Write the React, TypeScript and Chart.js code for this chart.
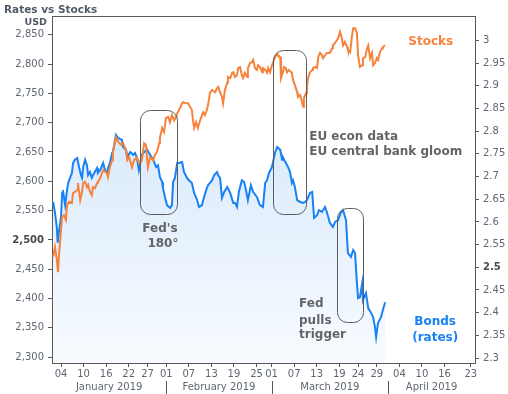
import React, { useEffect, useRef } from 'react';
import { Chart, registerables } from 'chart.js';

Chart.register(...registerables);

// ---- Data (day 0 = 1 Jan 2019) ----
const BLUE_DAYS = [
  0.9, 1.4, 1.9, 2.1, 2.5, 3.0, 3.3, 3.5, 4.1, 4.6, 4.9, 5.4, 5.9, 6.2, 6.7, 7.3, 7.8, 8.3, 8.6, 8.9,
  9.4, 9.9, 10.2, 10.7, 11.2, 11.5, 12.6, 12.8, 13.4, 14.2, 14.7, 15.2, 15.5, 16.0, 16.6, 16.8, 17.6, 18.2, 19.2, 19.5,
  20.3, 20.6, 21.4, 22.2, 22.7, 23.2, 23.7, 24.5, 25.1, 25.9, 26.4, 27.5, 28.3, 28.8, 29.3, 29.9, 30.1, 30.7, 31.2, 32.0,
  32.5, 32.8, 33.3, 33.9, 34.4, 35.2, 35.7, 36.5, 37.0, 37.8, 38.4, 39.2, 39.7, 40.5, 40.8, 41.6, 42.1, 43.2, 43.7, 44.5,
  44.8, 45.3, 45.8, 46.4, 47.2, 48.0, 48.8, 49.3, 49.8, 50.3, 51.1, 51.7, 52.2, 52.7, 53.5, 54.1, 55.1, 55.9, 56.7, 57.3,
  57.8, 58.3, 59.1, 59.9, 60.5, 61.3, 61.8, 62.0, 62.8, 63.4, 63.9, 64.4, 64.7, 65.2, 65.8, 66.6, 67.4, 67.9, 68.4, 69.2,
  69.8, 70.3, 71.1, 71.6, 72.4, 73.2, 73.7, 74.5, 75.3, 75.9, 76.7, 77.5, 78.0, 78.8, 79.3, 80.1, 80.7, 81.2, 81.7, 82.0,
  82.5, 83.1, 83.3, 84.1, 84.7, 85.5, 86.0, 86.5, 86.8, 87.3, 88.1, 88.6, 89.2,
];
const BLUE_RATES = [
  2.644, 2.620, 2.587, 2.554, 2.582, 2.611, 2.664, 2.670, 2.637, 2.670, 2.686, 2.697, 2.708, 2.730, 2.737, 2.741, 2.721, 2.703, 2.697, 2.721,
  2.737, 2.725, 2.703, 2.710, 2.697, 2.703, 2.719, 2.708, 2.714, 2.730, 2.714, 2.708, 2.719, 2.730, 2.752, 2.754, 2.792, 2.785, 2.781, 2.765,
  2.759, 2.743, 2.754, 2.748, 2.752, 2.741, 2.714, 2.748, 2.754, 2.759, 2.752, 2.737, 2.721, 2.725, 2.699, 2.688, 2.675, 2.653, 2.637, 2.631,
  2.637, 2.688, 2.697, 2.730, 2.730, 2.732, 2.710, 2.697, 2.692, 2.686, 2.664, 2.648, 2.633, 2.637, 2.648, 2.670, 2.681, 2.692, 2.703, 2.710,
  2.703, 2.697, 2.653, 2.666, 2.677, 2.664, 2.642, 2.642, 2.633, 2.666, 2.692, 2.688, 2.670, 2.648, 2.681, 2.666, 2.655, 2.637, 2.633, 2.686,
  2.692, 2.708, 2.721, 2.752, 2.765, 2.759, 2.737, 2.743, 2.730, 2.721, 2.710, 2.686, 2.692, 2.677, 2.648, 2.644, 2.642, 2.644, 2.648, 2.664,
  2.666, 2.609, 2.615, 2.626, 2.622, 2.633, 2.622, 2.598, 2.589, 2.600, 2.604, 2.622, 2.626, 2.604, 2.531, 2.523, 2.538, 2.531, 2.465, 2.432,
  2.434, 2.465, 2.428, 2.443, 2.410, 2.399, 2.390, 2.368, 2.346, 2.377, 2.390, 2.406, 2.423,
];
const ORANGE_DAYS = [
  0.9, 1.4, 1.9, 2.2, 2.5, 3.0, 3.3, 3.8, 4.3, 4.6, 5.1, 5.9, 6.2, 6.7, 7.3, 7.5, 8.1, 8.6, 8.9, 9.4,
  9.9, 10.2, 10.7, 11.2, 11.5, 12.0, 12.6, 12.8, 13.4, 13.9, 14.2, 15.2, 15.5, 16.0, 16.6, 16.8, 17.6, 18.2, 19.0, 19.5,
  20.3, 20.6, 21.1, 21.9, 22.4, 23.2, 23.7, 24.5, 25.1, 25.6, 26.1, 26.7, 27.5, 28.0, 28.5, 29.1, 29.3, 29.9, 30.4, 30.9,
  31.5, 32.0, 32.5, 33.1, 33.6, 33.9, 34.4, 35.2, 35.5, 36.2, 36.8, 37.3, 37.8, 38.1, 38.4, 38.9, 39.4, 40.0, 40.5, 40.8,
  41.3, 41.8, 42.1, 42.6, 43.2, 44.0, 44.5, 44.8, 45.3, 45.8, 46.1, 46.6, 47.2, 47.4, 48.0, 48.5, 48.8, 49.3, 49.8, 50.1,
  50.6, 51.1, 51.4, 51.9, 52.5, 52.7, 53.3, 53.8, 54.1, 54.6, 55.1, 55.4, 55.9, 56.5, 56.7, 57.3, 57.8, 58.1, 58.6, 59.1,
  59.4, 59.9, 60.5, 60.7, 61.3, 61.5, 62.0, 62.3, 62.8, 63.1, 63.6, 64.4, 64.7, 65.2, 65.8, 66.0, 66.6, 67.1, 67.4, 67.6,
  68.2, 68.4, 68.7, 69.2, 69.8, 70.0, 70.6, 71.1, 71.4, 71.9, 72.4, 72.7, 73.2, 73.7, 74.5, 75.1, 75.3, 75.9, 76.4, 76.7,
  77.2, 77.7, 78.0, 78.5, 79.1, 79.3, 79.9, 80.4, 80.7, 81.2, 81.7, 82.0, 82.5, 83.1, 83.3, 83.9, 84.4, 84.7, 85.2, 85.7,
  86.0, 86.5, 87.0, 87.3, 87.8, 88.4, 88.6, 89.2,
];
const ORANGE_USD = [
  2471, 2488, 2466, 2445, 2477, 2517, 2539, 2542, 2534, 2559, 2565, 2563, 2580, 2582, 2585, 2597, 2568, 2582, 2597, 2599,
  2590, 2594, 2582, 2576, 2590, 2588, 2597, 2599, 2605, 2614, 2619, 2614, 2607, 2624, 2636, 2650, 2675, 2667, 2662, 2665,
  2653, 2636, 2641, 2624, 2636, 2641, 2631, 2636, 2665, 2662, 2624, 2641, 2636, 2645, 2650, 2665, 2674, 2691, 2684, 2708,
  2710, 2701, 2713, 2704, 2710, 2716, 2722, 2733, 2735, 2733, 2733, 2727, 2722, 2704, 2691, 2701, 2691, 2704, 2713, 2718,
  2713, 2722, 2730, 2751, 2756, 2752, 2759, 2761, 2752, 2744, 2733, 2756, 2768, 2778, 2776, 2785, 2786, 2778, 2781, 2793,
  2795, 2781, 2776, 2785, 2778, 2793, 2802, 2803, 2807, 2793, 2790, 2798, 2795, 2786, 2793, 2790, 2785, 2793, 2786, 2798,
  2803, 2812, 2817, 2815, 2812, 2776, 2786, 2795, 2793, 2786, 2790, 2785, 2773, 2764, 2752, 2744, 2747, 2735, 2727, 2742,
  2751, 2761, 2776, 2786, 2790, 2793, 2795, 2793, 2812, 2819, 2815, 2810, 2815, 2819, 2819, 2827, 2832, 2836, 2841, 2844,
  2855, 2844, 2832, 2838, 2829, 2824, 2820, 2849, 2861, 2861, 2853, 2815, 2795, 2798, 2810, 2812, 2827, 2832, 2810, 2819,
  2798, 2802, 2810, 2807, 2820, 2827, 2829, 2832,
];

const USD_TICKS = [2300, 2350, 2400, 2450, 2500, 2550, 2600, 2650, 2700, 2750, 2800, 2850];
const RATE_TICKS = [2.3, 2.35, 2.4, 2.45, 2.5, 2.55, 2.6, 2.65, 2.7, 2.75, 2.8, 2.85, 2.9, 2.95, 3];
const DAY_TICKS = [3, 9, 15, 21, 26, 31, 37, 43, 49, 55, 59, 65, 71, 77, 82, 87, 93, 99, 105, 112];
const MONTH_NAMES = ['January 2019', 'February 2019', 'March 2019', 'April 2019'];
const MONTH_STARTS = [0, 31, 59, 90];

// axis ranges
const X_MIN = 0.6;
const X_MAX = 113.1;
const USD_MIN = 2290;
const USD_MAX = 2882;
const RATE_MIN = 2.289;
const RATE_MAX = 3.054;

// annotation boxes (day range, rate range on right axis)
const BOXES = [
  { d0: 24.1, d1: 33.9, r0: 2.617, r1: 2.847 },
  { d0: 59.4, d1: 68.2, r0: 2.617, r1: 2.979 },
  { d0: 76.4, d1: 83.3, r0: 2.379, r1: 2.631 },
];

const GRAY_TXT = '#646464';
const ORANGE = '#f7823c';
const BLUE = '#1882f5';

const LABELS = [
  { text: "Fed's", d: 29.3, r: 2.584, align: 'center', color: GRAY_TXT },
  { text: '180°', d: 30.1, r: 2.551, align: 'center', color: GRAY_TXT },
  { text: 'EU econ data', d: 69.0, r: 2.787, align: 'left', color: GRAY_TXT },
  { text: 'EU central bank gloom', d: 69.0, r: 2.754, align: 'left', color: GRAY_TXT },
  { text: 'Fed', d: 66.3, r: 2.419, align: 'left', color: GRAY_TXT },
  { text: 'pulls', d: 66.3, r: 2.382, align: 'left', color: GRAY_TXT },
  { text: 'trigger', d: 66.3, r: 2.350, align: 'left', color: GRAY_TXT },
  { text: 'Stocks', d: 107.3, r: 2.997, align: 'right', color: ORANGE },
  { text: 'Bonds', d: 102.5, r: 2.379, align: 'center', color: BLUE },
  { text: '(rates)', d: 102.5, r: 2.344, align: 'center', color: BLUE },
];

const TICK_COLOR = '#5e6772';
const AXIS_COLOR = '#595959';
const FONT = 'DejaVu Sans';

function dayLabel(v: number): string {
  const dt = new Date(2019, 0, 1 + Math.round(v));
  return String(dt.getDate()).padStart(2, '0');
}

const overlayPlugin = {
  id: 'overlay',
  afterDraw(chart: any) {
    const { ctx, chartArea, scales } = chart;
    const xs = scales.x;
    const yr = scales.y1;
    ctx.save();

    // top border of the plot box
    ctx.strokeStyle = AXIS_COLOR;
    ctx.lineWidth = 1;
    ctx.beginPath();
    ctx.moveTo(chartArea.left, Math.round(chartArea.top) + 0.5);
    ctx.lineTo(chartArea.right, Math.round(chartArea.top) + 0.5);
    ctx.stroke();

    // annotation boxes
    ctx.strokeStyle = '#5c5c5c';
    ctx.lineWidth = 1;
    for (const b of BOXES) {
      const l = Math.round(xs.getPixelForValue(b.d0)) + 0.5;
      const r = Math.round(xs.getPixelForValue(b.d1)) + 0.5;
      const t = Math.round(yr.getPixelForValue(b.r1)) + 0.5;
      const bt = Math.round(yr.getPixelForValue(b.r0)) + 0.5;
      ctx.beginPath();
      (ctx as any).roundRect(l, t, r - l, bt - t, 10);
      ctx.stroke();
    }

    // annotation texts
    ctx.font = `bold 12px "${FONT}"`;
    ctx.textBaseline = 'middle';
    for (const lb of LABELS) {
      ctx.fillStyle = lb.color;
      ctx.textAlign = lb.align as CanvasTextAlign;
      ctx.fillText(lb.text, xs.getPixelForValue(lb.d), yr.getPixelForValue(lb.r));
    }

    // month row
    const bounds = [chartArea.left];
    for (let i = 1; i < MONTH_STARTS.length; i++) bounds.push(xs.getPixelForValue(MONTH_STARTS[i]));
    bounds.push(chartArea.right);
    ctx.strokeStyle = AXIS_COLOR;
    for (let i = 1; i < MONTH_STARTS.length; i++) {
      const px = Math.round(bounds[i]) + 0.5;
      ctx.beginPath();
      ctx.moveTo(px, 381);
      ctx.lineTo(px, 394);
      ctx.stroke();
    }
    ctx.font = `10px "${FONT}"`;
    ctx.fillStyle = TICK_COLOR;
    ctx.textAlign = 'center';
    for (let i = 0; i < MONTH_NAMES.length; i++) {
      ctx.fillText(MONTH_NAMES[i], (bounds[i] + bounds[i + 1]) / 2, 387);
    }

    // title and unit
    ctx.fillStyle = '#4f5a66';
    ctx.textAlign = 'left';
    ctx.font = `bold 10.5px "${FONT}"`;
    ctx.fillText('Rates vs Stocks', 4, 10);
    ctx.textAlign = 'right';
    ctx.font = `bold 9.5px "${FONT}"`;
    ctx.fillText('USD', 47, 23);

    ctx.restore();
  },
};

export default function App() {
  const ref = useRef<HTMLCanvasElement | null>(null);

  useEffect(() => {
    document.body.style.margin = '0';
    const canvas = ref.current;
    if (!canvas) return;

    const blueData = BLUE_DAYS.map((d, i) => ({ x: d, y: BLUE_RATES[i] }));
    const orangeData = ORANGE_DAYS.map((d, i) => ({ x: d, y: ORANGE_USD[i] }));

    const chart = new Chart(canvas, {
      type: 'line',
      data: {
        datasets: [
          {
            label: 'Stocks',
            data: orangeData,
            yAxisID: 'y',
            borderColor: ORANGE,
            borderWidth: 2,
            pointRadius: 0,
            tension: 0,
            fill: false,
          },
          {
            label: 'Bonds (rates)',
            data: blueData,
            yAxisID: 'y1',
            borderColor: BLUE,
            borderWidth: 2,
            pointRadius: 0,
            tension: 0,
            fill: 'start',
            backgroundColor: (c: any) => {
              const area = c.chart.chartArea;
              if (!area) return 'rgba(210,228,250,0.6)';
              const g = c.chart.ctx.createLinearGradient(0, area.top, 0, area.bottom);
              g.addColorStop(0, '#cbe1fa');
              g.addColorStop(1, '#f7fbff');
              return g;
            },
          },
        ],
      },
      options: {
        responsive: false,
        animation: false,
        devicePixelRatio: 1,
        layout: { padding: { top: 16, left: 0, right: 0, bottom: 0 } },
        plugins: {
          legend: { display: false },
          tooltip: { enabled: false },
        },
        scales: {
          x: {
            type: 'linear',
            min: X_MIN,
            max: X_MAX,
            afterBuildTicks: (s: any) => {
              s.ticks = DAY_TICKS.map((v) => ({ value: v }));
            },
            afterFit: (s: any) => {
              s.height = 31;
            },
            ticks: {
              callback: (v: any) => dayLabel(Number(v)),
              font: { family: FONT, size: 10 },
              color: TICK_COLOR,
              padding: 1,
              maxRotation: 0,
              autoSkip: false,
            },
            grid: { drawOnChartArea: false, tickLength: 4, color: AXIS_COLOR },
            border: { color: AXIS_COLOR, width: 1 },
          },
          y: {
            type: 'linear',
            position: 'left',
            min: USD_MIN,
            max: USD_MAX,
            afterBuildTicks: (s: any) => {
              s.ticks = USD_TICKS.map((v) => ({ value: v }));
            },
            afterFit: (s: any) => {
              s.width = 52;
            },
            ticks: {
              callback: (v: any) => Number(v).toLocaleString('en-US'),
              font: (c: any) => ({
                family: FONT,
                size: 10,
                weight: c.tick && c.tick.value === 2500 ? 'bold' : 'normal',
              }),
              color: (c: any) => (c.tick && c.tick.value === 2500 ? '#4a4a4a' : TICK_COLOR),
              padding: 4,
            },
            grid: { drawOnChartArea: false, tickLength: 4, color: AXIS_COLOR },
            border: { color: AXIS_COLOR, width: 1 },
          },
          y1: {
            type: 'linear',
            position: 'right',
            min: RATE_MIN,
            max: RATE_MAX,
            afterBuildTicks: (s: any) => {
              s.ticks = RATE_TICKS.map((v) => ({ value: v }));
            },
            afterFit: (s: any) => {
              s.width = 33;
            },
            ticks: {
              callback: (v: any) => String(Number(Number(v).toFixed(2))),
              font: (c: any) => ({
                family: FONT,
                size: 10,
                weight: c.tick && c.tick.value === 2.5 ? 'bold' : 'normal',
              }),
              color: (c: any) => (c.tick && c.tick.value === 2.5 ? '#4a4a4a' : TICK_COLOR),
              padding: 4,
            },
            grid: { drawOnChartArea: false, tickLength: 4, color: AXIS_COLOR },
            border: { color: AXIS_COLOR, width: 1 },
          },
        },
      },
      plugins: [overlayPlugin],
    } as any);

    return () => chart.destroy();
  }, []);

  return (
    <div style={{ position: 'absolute', left: 0, top: 0, width: 508, height: 394, background: '#fff' }}>
      <canvas ref={ref} width={508} height={394} style={{ display: 'block' }} />
    </div>
  );
}
